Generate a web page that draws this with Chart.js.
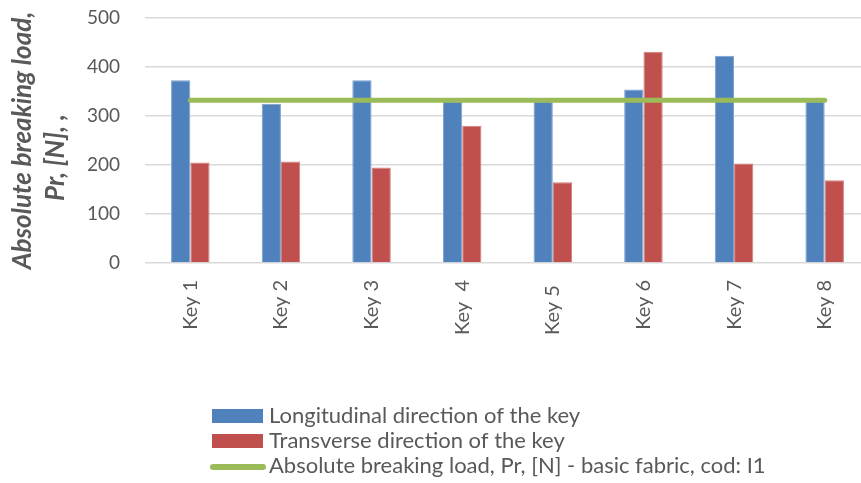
<!DOCTYPE html>
<html>
<head>
<meta charset="utf-8">
<script src="https://cdn.jsdelivr.net/npm/chart.js@4/dist/chart.umd.min.js"></script>
<style>
  html, body { margin: 0; padding: 0; background: #ffffff; overflow: hidden; }
  #wrap { position: relative; width: 872px; height: 483px; }
</style>
</head>
<body>
<div id="wrap"><canvas id="c"></canvas></div>
<script>
const categories = ['Key 1', 'Key 2', 'Key 3', 'Key  4', 'Key 5 ', 'Key 6', 'Key 7', 'Key 8'];
const longitudinal = [373, 325, 373, 330, 330, 354, 423, 330];
const transverse = [205, 207, 195, 280, 165, 431, 203, 169];
const basicFabric = [332, 332, 332, 332, 332, 332, 332, 332];
const yTicks = [0, 100, 200, 300, 400, 500];
const seriesNames = [
  'Longitudinal direction of the key',
  'Transverse direction of the key',
  'Absolute breaking load, Pr, [N] - basic fabric, cod: I1'
];
const yTitle = ['Absolute breaking load,', 'Pr, [N], ,      '];

const TEXT = '#595959';
const FONT = 'Lato, "Open Sans", sans-serif';

// y-axis title (two lines, rotated) drawn without width compression
const yTitlePlugin = {
  id: 'yTitle',
  afterDraw(chart) {
    const ctx = chart.ctx;
    const ys = chart.scales.y;
    const cy = (ys.top + ys.bottom) / 2;
    const lineH = 33;
    ctx.save();
    ctx.font = 'italic bold 26px ' + FONT;
    ctx.fillStyle = TEXT;
    ctx.textAlign = 'center';
    ctx.textBaseline = 'middle';
    yTitle.forEach((line, i) => {
      ctx.save();
      ctx.translate(23 + i * lineH, cy);
      ctx.rotate(-Math.PI / 2);
      ctx.fillText(line, 0, 0);
      ctx.restore();
    });
    ctx.restore();
  }
};

const legendPlugin = {
  id: 'stackedLegend',
  afterDraw(chart) {
    const ctx = chart.ctx;
    const ds = chart.data.datasets;
    const order = [1, 2, 0];
    const rows = [416, 441, 466];
    ctx.save();
    ctx.font = '22px ' + FONT;
    ctx.textBaseline = 'middle';
    ctx.textAlign = 'left';
    order.forEach((idx, r) => {
      const d = ds[idx];
      const y = rows[r];
      if (d.type === 'line') {
        ctx.strokeStyle = d.borderColor;
        ctx.lineWidth = 6;
        ctx.lineCap = 'round';
        ctx.beginPath();
        ctx.moveTo(213, y + 1);
        ctx.lineTo(263, y + 1);
        ctx.stroke();
      } else {
        ctx.fillStyle = d.backgroundColor;
        ctx.fillRect(212, y - 7, 51, 14);
      }
      ctx.fillStyle = TEXT;
      ctx.fillText(d.label, 269, y);
    });
    ctx.restore();
  }
};

new Chart(document.getElementById('c'), {
  data: {
    labels: categories,
    datasets: [
      {
        type: 'line',
        label: seriesNames[2],
        data: basicFabric,
        borderColor: '#9BBB59',
        backgroundColor: '#9BBB59',
        borderWidth: 5,
        borderCapStyle: 'round',
        pointRadius: 0,
        fill: false,
        order: 0
      },
      {
        type: 'bar',
        label: seriesNames[0],
        data: longitudinal,
        backgroundColor: '#4F81BD',
        borderColor: '#7DA0CC',
        borderWidth: 1,
        categoryPercentage: 0.425,
        barPercentage: 1.0,
        order: 1
      },
      {
        type: 'bar',
        label: seriesNames[1],
        data: transverse,
        backgroundColor: '#C0504D',
        borderColor: '#D27F7D',
        borderWidth: 1,
        categoryPercentage: 0.425,
        barPercentage: 1.0,
        order: 2
      }
    ]
  },
  options: {
    responsive: true,
    maintainAspectRatio: false,
    animation: false,
    layout: { padding: { top: 18, right: 2, bottom: 0, left: 0 } },
    plugins: {
      legend: { display: false },
      tooltip: { enabled: false }
    },
    scales: {
      x: {
        grid: { display: false, drawTicks: false },
        border: { display: false },
        ticks: {
          autoSkip: false,
          minRotation: 90,
          maxRotation: 90,
          padding: 17,
          color: TEXT,
          font: { family: FONT, size: 20 }
        },
        afterFit(scale) {
          scale.height = 220;
          scale.paddingLeft = 0; scale.paddingRight = 0;
          scale.paddingTop = 0; scale.paddingBottom = 0;
        }
      },
      y: {
        min: 0,
        max: 500,
        afterBuildTicks(scale) { scale.ticks = yTicks.map(v => ({ value: v })); },
        grid: { color: '#D9D9D9', lineWidth: 1.5, drawTicks: false },
        border: { display: false },
        ticks: {
          padding: 25,
          color: TEXT,
          font: { family: FONT, size: 19 }
        },
        title: { display: false },
        afterFit(scale) {
          scale.width = 145;
          scale.paddingTop = 0; scale.paddingBottom = 0;
          scale.paddingLeft = 0; scale.paddingRight = 0;
        }
      }
    }
  },
  plugins: [yTitlePlugin, legendPlugin]
});
</script>
</body>
</html>
